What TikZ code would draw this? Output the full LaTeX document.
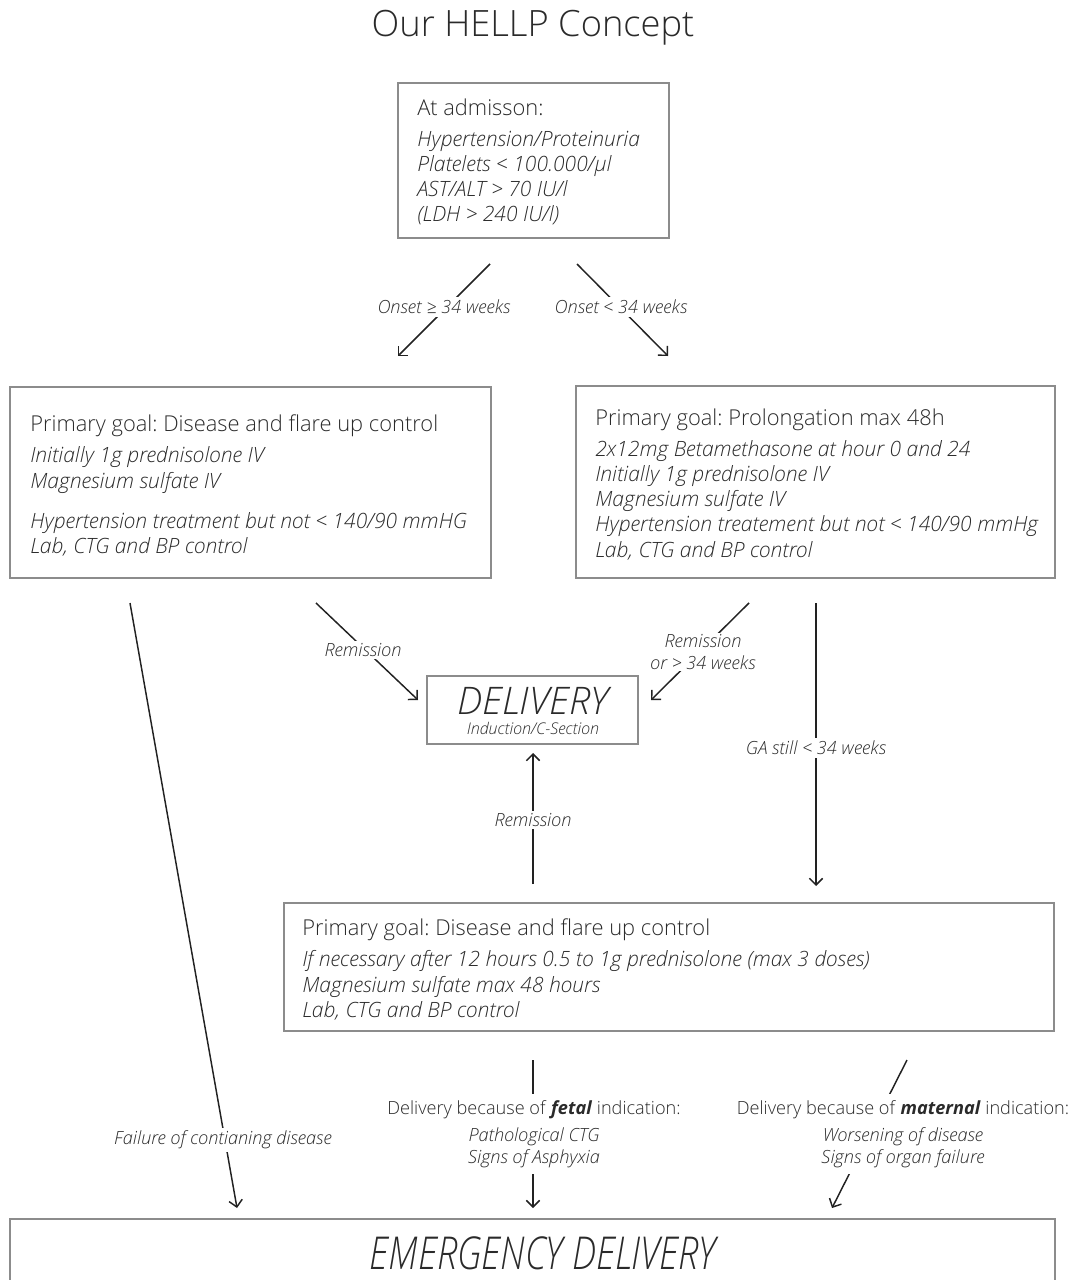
\documentclass[tikz,border=0pt]{standalone}
\usepackage{fontspec}
\IfFontExistsTF{Open Sans Light}{\setmainfont{Open Sans Light}[BoldFont=Open Sans Bold, BoldItalicFont=Open Sans Bold Italic]}{\setmainfont{Open Sans}}
\usetikzlibrary{arrows.meta,fit}
\definecolor{txt}{HTML}{2A2A2A}
\definecolor{frame}{HTML}{8C8C8C}
\definecolor{arr}{HTML}{222222}
\frenchspacing
\tikzset{
  x=0.75pt, y=-0.75pt,
  box/.style={draw=frame, line width=1.5pt, inner sep=0pt},
  head/.style={anchor=base west, inner sep=0pt, text=txt, font=\fontsize{16.4}{19}\selectfont},
  body/.style={anchor=base west, inner sep=0pt, text=txt, font=\fontsize{15.8}{18}\selectfont\itshape},
  lbl/.style={fill=white, inner sep=2pt, text=txt, font=\fontsize{13.6}{16.5}\selectfont\itshape, align=center},
  conn/.style={draw=arr, line width=1.1pt, -{Straight Barb[length=5pt,width=10pt]}},
}
\begin{document}
\begin{tikzpicture}
\useasboundingbox (0,0) rectangle (1069,1280);
\clip (0,0) rectangle (1069,1280);

% title
\node[text=txt, font=\fontsize{27.2}{30}\selectfont] (title) at (533,28) {Our HELLP Concept};

% boxes
\node[box, fit={(398,83)(669,238)}] (adm) {};
\node[box, fit={(10,387)(491,578)}] (left) {};
\node[box, fit={(576,386)(1055,578)}] (right) {};
\node[box, fit={(427,676)(638,744)}] (deliv) {};
\node[box, fit={(284,903)(1054,1031)}] (ctrl) {};
\node[box, fit={(10,1219)(1055,1310)}] (emerg) {};

% admission text
\node[head] (adm1) at (417,116) {At admisson:};
\node[body] (adm2) at (417,147) {Hypertension/Proteinuria};
\node[body] (adm3) at (417,172) {Platelets < 100.000/µl};
\node[body] (adm4) at (417,197) {AST/ALT > 70 IU/l};
\node[body] (adm5) at (417,222) {(LDH > 240 IU/l)};

% left box text
\node[head] (l1) at (30,431) {Primary goal: Disease and flare up control};
\node[body] (l2) at (30,462) {Initially 1g prednisolone IV};
\node[body] (l3) at (30,488) {Magnesium sulfate IV};
\node[body] (l4) at (30,528) {Hypertension treatment but not < 140/90 mmHG};
\node[body] (l5) at (30,553) {Lab, CTG and BP control};

% right box text
\node[head] (r1) at (595,425) {Primary goal: Prolongation max 48h};
\node[body] (r2) at (595,456) {2x12mg Betamethasone at hour 0 and 24};
\node[body] (r3) at (595,481) {Initially 1g prednisolone IV};
\node[body] (r4) at (595,506) {Magnesium sulfate IV};
\node[body] (r5) at (595,531) {Hypertension treatement but not < 140/90 mmHg};
\node[body] (r6) at (595,557) {Lab, CTG and BP control};

% delivery
\node[text=txt, font=\fontsize{28.5}{30}\selectfont\itshape, inner sep=0pt] (dtitle) at (533,701) {DELIVERY};
\node[text=txt, font=\fontsize{12.1}{13}\selectfont\itshape, inner sep=0pt, anchor=north] (dsub) at (533,722) {Induction/C-Section};

% bottom control box text
\node[head] (c1) at (302,935) {Primary goal: Disease and flare up control};
\node[body] (c2) at (302,966) {If necessary after 12 hours 0.5 to 1g prednisolone (max 3 doses)};
\node[body] (c3) at (302,992) {Magnesium sulfate max 48 hours};
\node[body] (c4) at (302,1017) {Lab, CTG and BP control};

% emergency
\node[text=txt, font=\fontsize{34}{36}\selectfont\itshape, xscale=0.80, inner sep=0pt] (etitle) at (543,1253) {EMERGENCY DELIVERY};

% connector end points
\coordinate (o1s) at (490,264); \coordinate (o1e) at (398,356);
\coordinate (o2s) at (577,264); \coordinate (o2e) at (668,356);
\coordinate (rls) at (316,603); \coordinate (rle) at (418,700);
\coordinate (rrs) at (749,603); \coordinate (rre) at (651,700);
\coordinate (gas) at (816,603); \coordinate (gae) at (816,886);
\coordinate (rus) at (533,884); \coordinate (rue) at (533,753);
\coordinate (fls) at (130,603); \coordinate (fle) at (237,1208);
\coordinate (fes) at (533,1060); \coordinate (fee) at (533,1208);
\coordinate (mas) at (907,1060); \coordinate (mae) at (832,1208);

% connectors
\draw[conn] (o1s) -- (o1e);
\draw[conn] (o2s) -- (o2e);
\draw[conn] (rls) -- (rle);
\draw[conn] (rrs) -- (rre);
\draw[conn] (gas) -- (gae);
\draw[conn] (rus) -- (rue);
\draw[conn] (fls) -- (fle);
\draw[conn] (fes) -- (fee);
\draw[conn] (mas) -- (mae);

% connector labels
\node[lbl] (lo1) at (444,307) {Onset ≥ 34 weeks};
\node[lbl] (lo2) at (621,307) {Onset < 34 weeks};
\node[lbl] (lrl) at (363,650) {Remission};
\node[lbl, inner sep=1pt] (lrr) at (703,652) {Remission\\or > 34 weeks};
\node[lbl] (lga) at (816,748) {GA still < 34 weeks};
\node[lbl] (lru) at (533,820) {Remission};
\node[lbl] (lfl) at (223,1140) {Failure of contianing disease};
\node[lbl, inner ysep=5pt] (lfe) at (534,1134) {\upshape Delivery because of \textbf{\itshape fetal} indication:\\[3.5pt]Pathological CTG\\Signs of Asphyxia};
\node[lbl, inner ysep=5pt] (lma) at (903,1134) {\upshape Delivery because of \textbf{\itshape maternal} indication:\\[3.5pt]Worsening of disease\\Signs of organ failure};
\end{tikzpicture}
\end{document}
